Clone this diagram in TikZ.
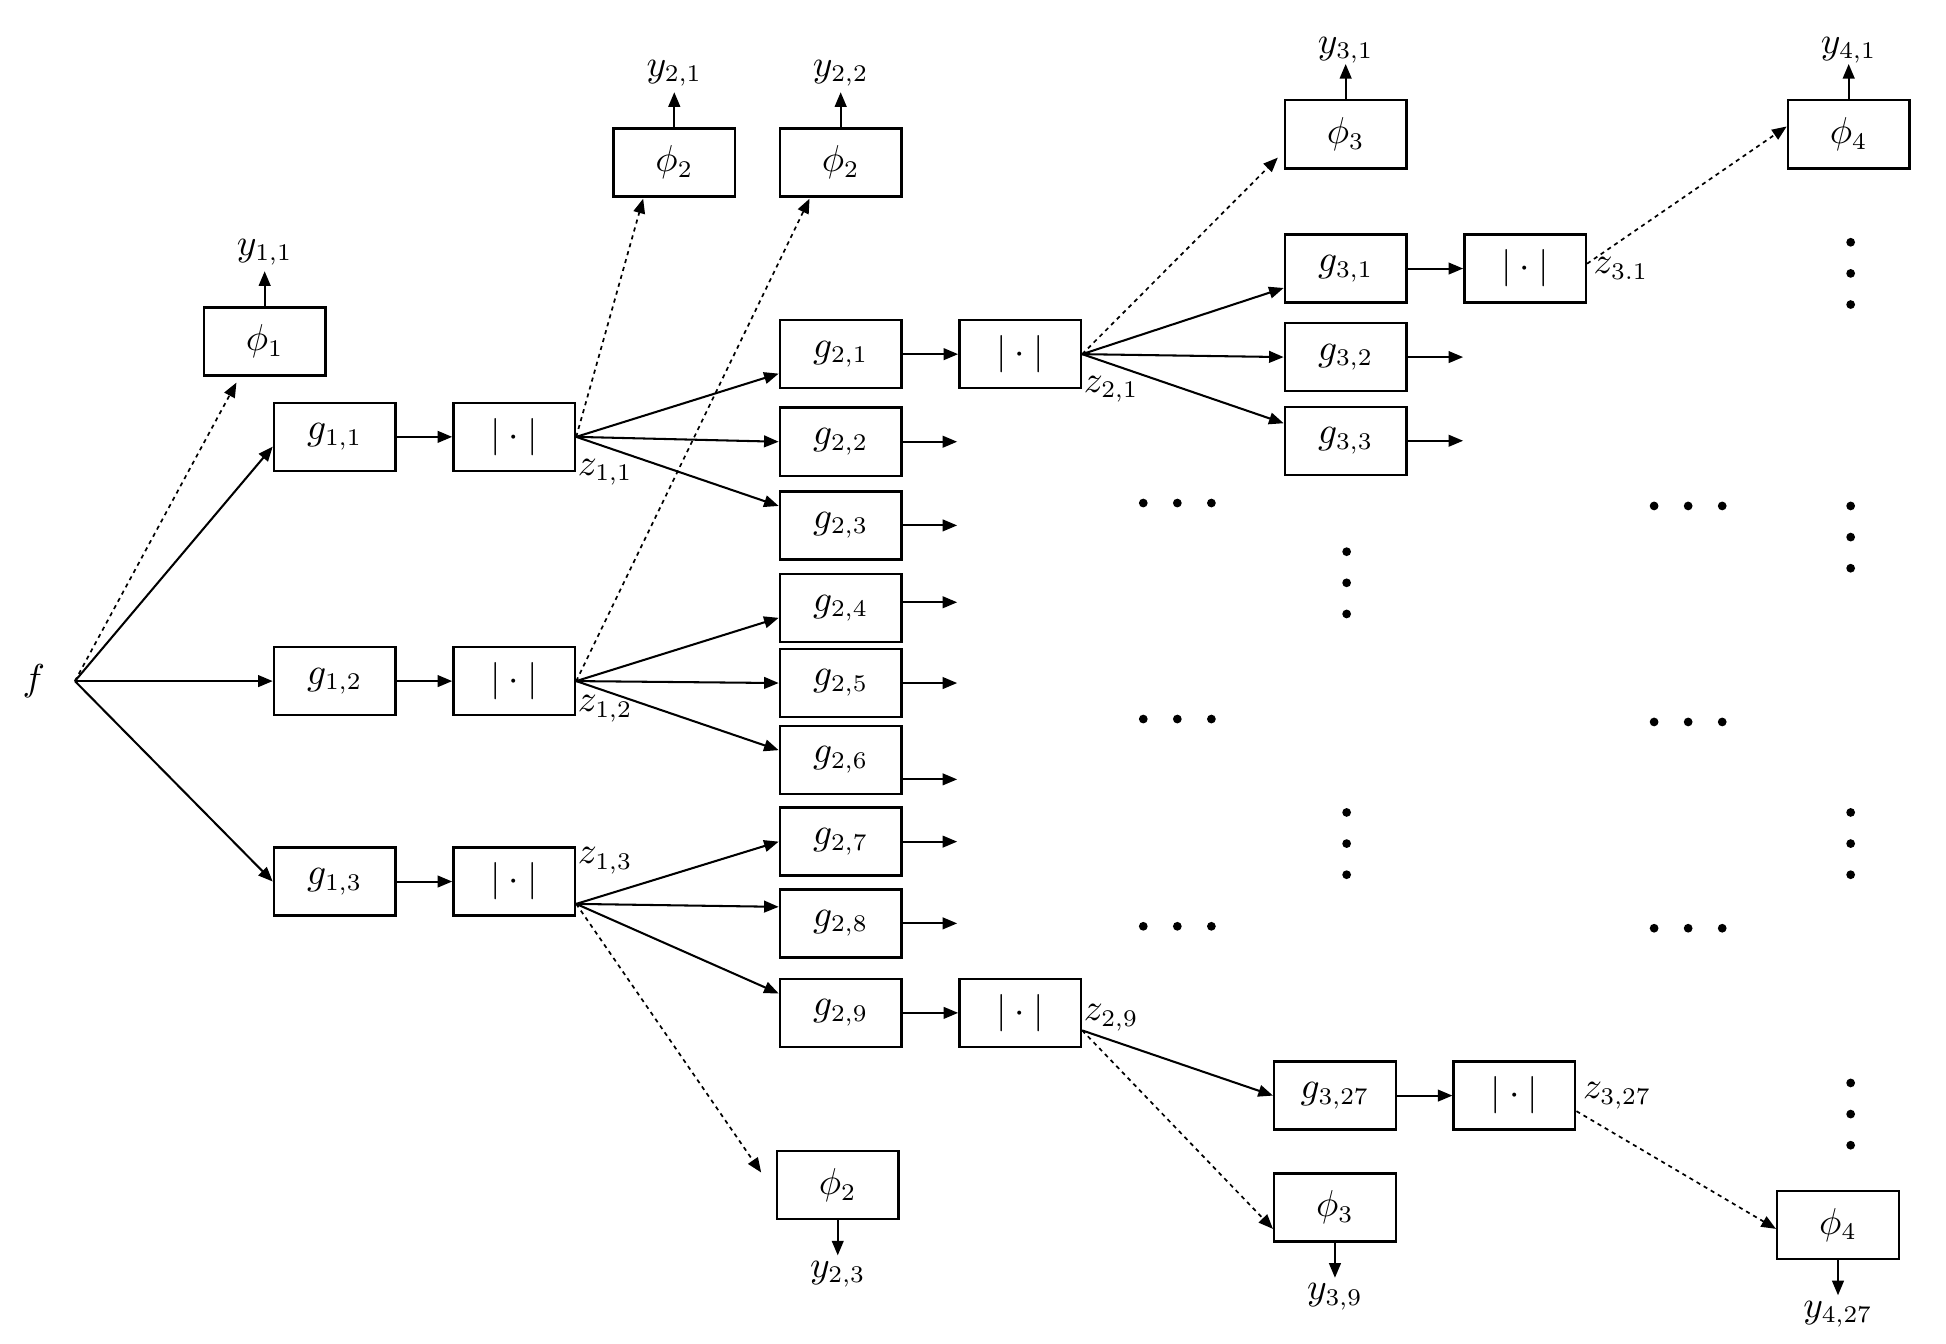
\documentclass[tikz,border=0pt]{standalone}
\usepackage{tikz}
\usetikzlibrary{arrows.meta,positioning}
\tikzset{
  boxnode/.style={draw,line width=0.7pt,minimum width=1.25cm,minimum height=0.70cm,inner sep=2pt},
  arrow/.style={-{Triangle[length=1.5mm,width=1.2mm]},line width=0.6pt},
  skiparrow/.style={-{Triangle[length=1.5mm,width=1.2mm]},line width=0.5pt,dash pattern=on 1.2pt off 1.2pt},
  zlabel/.style={anchor=west,inner sep=0.3pt},
  ylabel/.style={inner sep=1.5pt}
}

\begin{document}
\begin{tikzpicture}[node distance=5.7mm and 5.7mm,font=\fontsize{10.5}{13}\selectfont]
\useasboundingbox (0,0) rectangle (20,-13.81);
% input
\node[anchor=east,inner xsep=3mm] (f) at (0.77,-7.00) {$f$};
% first layer
\node[boxnode] (phi1) at (2.72,-3.51) {$\phi_1$};
\node[boxnode] (g11) at (3.44,-4.49) {$g_{1,1}$};
\node[boxnode] (g12) at (3.44,-7.00) {$g_{1,2}$};
\node[boxnode] (g13) at (3.44,-9.06) {$g_{1,3}$};
\node[boxnode,right=of g11] (abs11) {$|\cdot|$};
\node[boxnode,right=of g12] (abs12) {$|\cdot|$};
\node[boxnode,right=of g13] (abs13) {$|\cdot|$};
\node[zlabel] (z11) at (abs11.south east) {$z_{1,1}$};
\node[zlabel] (z12) at ([yshift=0.8mm]abs12.south east) {$z_{1,2}$};
\node[zlabel] (z13) at ([yshift=-1.5mm]abs13.north east) {$z_{1,3}$};
% second layer
\node[boxnode] (phi21) at (6.93,-1.67) {$\phi_2$};
\node[boxnode] (phi22) at (8.64,-1.67) {$\phi_2$};
\node[boxnode] (phi23) at (8.61,-12.18) {$\phi_2$};
\foreach \i/\y in {1/-3.64,2/-4.54,3/-5.40,4/-6.25,5/-7.02,6/-7.81,7/-8.65,8/-9.49,9/-10.41}
  \node[boxnode] (g2\i) at (8.64,\y) {$g_{2,\i}$};
\node[boxnode,right=of g21] (abs21) {$|\cdot|$};
\node[boxnode,right=of g29] (abs29) {$|\cdot|$};
\node[zlabel] (z21) at (abs21.south east) {$z_{2,1}$};
\node[zlabel] (z29) at ([yshift=-0.5mm]abs29.east) {$z_{2,9}$};
% third layer
\node[boxnode] (phi31) at (13.83,-1.38) {$\phi_3$};
\node[boxnode] (g31) at (13.83,-2.76) {$g_{3,1}$};
\node[boxnode] (g32) at (13.83,-3.67) {$g_{3,2}$};
\node[boxnode] (g33) at (13.83,-4.53) {$g_{3,3}$};
\node[boxnode,right=of g31] (abs31) {$|\cdot|$};
\node[boxnode] (g327) at (13.72,-11.26) {$g_{3,27}$};
\node[boxnode,right=of g327] (abs327) {$|\cdot|$};
\node[boxnode] (phi39) at (13.72,-12.41) {$\phi_3$};
\node[zlabel,xshift=0.5mm] (z31) at (abs31.east) {$z_{3.1}$};
\node[zlabel,xshift=0.5mm] (z327) at (abs327.east) {$z_{3,27}$};
% fourth layer
\node[boxnode] (phi41) at (19.00,-1.38) {$\phi_4$};
\node[boxnode] (phi427) at (18.89,-12.59) {$\phi_4$};
% outputs
\node[ylabel,above=3.6mm of phi1] (y11) {$y_{1,1}$};
\node[ylabel,above=3.6mm of phi21] (y21) {$y_{2,1}$};
\node[ylabel,above=3.6mm of phi22] (y22) {$y_{2,2}$};
\node[ylabel,below=3.6mm of phi23] (y23) {$y_{2,3}$};
\node[ylabel,inner sep=0pt,above=3.6mm of phi31] (y31) {$y_{3,1}$};
\node[ylabel,below=3.6mm of phi39] (y39) {$y_{3,9}$};
\node[ylabel,inner sep=0pt,above=3.6mm of phi41] (y41) {$y_{4,1}$};
\node[ylabel,below=3.6mm of phi427] (y427) {$y_{4,27}$};
\foreach \p/\q in {phi1/y11,phi21/y21,phi22/y22,phi23/y23,phi31/y31,phi39/y39,phi41/y41,phi427/y427}
  \draw[arrow] (\p) -- (\q);

% f to first layer
\draw[arrow] (f.east) -- ([yshift=-1mm]g11.west);
\draw[arrow] (f.east) -- (g12.west);
\draw[arrow] (f.east) -- (g13.west);
\draw[skiparrow] (f.east) -- ([xshift=-2.9mm,yshift=-0.6mm]phi1.south);
\draw[arrow] (g11) -- (abs11);
\draw[arrow] (g12) -- (abs12);
\draw[arrow] (g13) -- (abs13);

% first to second layer
\draw[arrow] (abs11.east) -- ([yshift=-2mm]g21.west);
\draw[arrow] (abs11.east) -- (g22.west);
\draw[arrow] (abs11.east) -- ([yshift=2mm]g23.west);
\draw[arrow] (abs12.east) -- ([yshift=-1mm]g24.west);
\draw[arrow] (abs12.east) -- (g25.west);
\draw[arrow] (abs12.east) -- ([yshift=1mm]g26.west);
\draw[arrow] ([yshift=-2.3mm]abs13.east) -- (g27.west);
\draw[arrow] ([yshift=-2.3mm]abs13.east) -- ([yshift=1.7mm]g28.west);
\draw[arrow] ([yshift=-2.3mm]abs13.east) -- ([yshift=2mm]g29.west);
\draw[skiparrow] (abs11.east) -- ([xshift=-3.2mm,yshift=-0.1mm]phi21.south);
\draw[skiparrow] (abs12.east) -- ([xshift=-3.2mm,yshift=-0.1mm]phi22.south);
\draw[skiparrow] ([yshift=-2.3mm]abs13.east) -- ([xshift=-1.5mm,yshift=1.3mm]phi23.west);
\draw[arrow] (g21) -- (abs21);
\draw[arrow] (g29) -- (abs29);
\foreach \i/\dy in {2/0mm,3/0mm,4/0.6mm,5/0mm,6/-2mm,7/0mm,8/0mm}{
  \coordinate[right=5.6mm of g2\i.east,yshift=\dy] (o2\i);
  \draw[arrow] (o2\i -| g2\i.east) -- (o2\i);
}

% second to third layer
\draw[arrow] (abs21.east) -- ([yshift=-2mm]g31.west);
\draw[arrow] (abs21.east) -- (g32.west);
\draw[arrow] (abs21.east) -- ([yshift=1.8mm]g33.west);
\draw[skiparrow] (abs21.east) -- ([xshift=-0.6mm,yshift=-2.4mm]phi31.west);
\draw[arrow] ([yshift=-1.8mm]abs29.east) -- (g327.west);
\draw[skiparrow] ([yshift=-1.8mm]abs29.east) -- ([yshift=-2.2mm]phi39.west);
\draw[arrow] (g31) -- (abs31);
\draw[arrow] (g327) -- (abs327);
\foreach \i in {2,3}{
  \coordinate[right=5.7mm of g3\i.east] (o3\i);
  \draw[arrow] (g3\i.east) -- (o3\i);
}

% third to fourth layer
\draw[skiparrow] ([yshift=0.5mm]abs31.east) -- ([yshift=0.8mm]phi41.west);
\draw[skiparrow] ([yshift=-1.6mm]abs327.east) -- ([yshift=-0.4mm]phi427.west);

% dots
\foreach \x/\y in {12.10/-5.17,12.10/-7.39,12.10/-9.52,17.35/-5.20,17.35/-7.42,17.35/-9.54}
  \foreach \k in {-1,0,1}
    \fill (\x+\k*0.35,\y) circle (0.045);
\foreach \x/\y in {13.84/-5.99,13.84/-8.67,19.02/-2.81,19.02/-5.52,19.02/-8.67,19.02/-11.45}
  \foreach \k in {-1,0,1}
    \fill (\x,\y+\k*0.32) circle (0.045);
\end{tikzpicture}
\end{document}
